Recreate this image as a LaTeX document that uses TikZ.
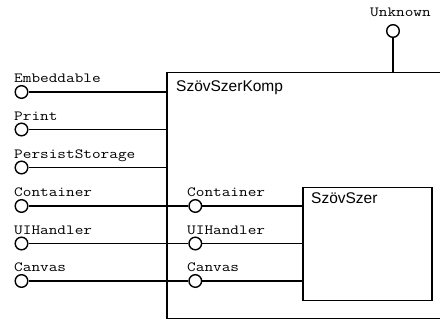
\documentclass[tikz,border=0pt]{standalone}
\usepackage{fontspec}
\setmainfont{Liberation Sans}
\newcommand{\monolbl}[1]{\scalebox{1.2}[1]{\ttfamily\fontsize{14}{14}\selectfont #1}}
\begin{document}
\begin{tikzpicture}[x=1pt,y=-1pt,
  lolli/.style={circle,draw,line width=1.4pt,minimum size=12.6pt,inner sep=0pt,fill=white},
  conn/.style={line width=1.5pt},
  box/.style={draw,line width=1.5pt,inner sep=0pt,anchor=north west},
  iflabel/.style={anchor=base west,inner sep=0pt},
  boxlabel/.style={font=\fontsize{15.5}{15.5}\selectfont,anchor=base west,inner sep=0pt}]
\useasboundingbox (0,0) rectangle (440,320);
\clip (0,0) rectangle (440,320);
% outer box
\node[box,minimum width=290pt,minimum height=246pt] (komp) at (166,72) {};
\node[boxlabel] (kompl) at (176,92) {SzövSzerKomp};
% inner box
\node[box,minimum width=129pt,minimum height=113pt] (szer) at (302,187) {};
\node[boxlabel] (szerl) at (311,204) {SzövSzer};
% Unknown
\node[lolli] (unk) at (393,31) {};
\coordinate (unkb) at (393,72);
\node[iflabel] (unkl) at (370,16.5) {\monolbl{Unknown}};
\draw[conn] (unk) -- (unkb);
% left lollipops
\foreach \n/\t/\y in {emb/Embeddable/92, pr/Print/129.5, ps/PersistStorage/167.5}{
  \node[lolli] (\n) at (21.5,\y) {};
  \node[iflabel] (\n l) at (14,\y-9) {\monolbl{\t}};
  \coordinate (\n e) at (166,\y);
  \draw[conn] (\n) -- (\n e);
}
\foreach \n/\t/\y in {co/Container/206, ui/UIHandler/243.5, ca/Canvas/281}{
  \node[lolli] (\n) at (21.5,\y) {};
  \node[iflabel] (\n l) at (14,\y-9) {\monolbl{\t}};
  \node[lolli] (\n i) at (195.3,\y) {};
  \node[iflabel] (\n il) at (187,\y-9) {\monolbl{\t}};
  \coordinate (\n e) at (302,\y);
  \draw[conn] (\n) -- (\n i);
  \draw[conn] (\n i) -- (\n e);
}
\end{tikzpicture}
\end{document}
